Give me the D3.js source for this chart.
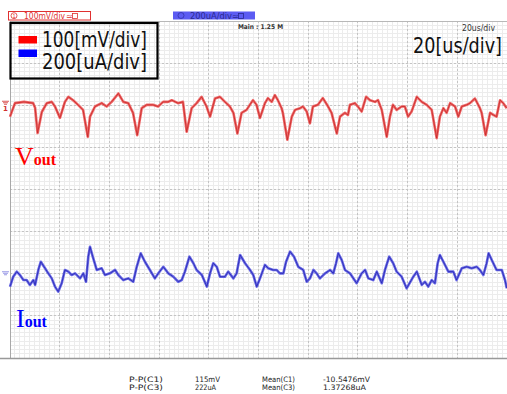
<!DOCTYPE html>
<html>
<head>
<meta charset="utf-8">
<script src="https://cdn.jsdelivr.net/npm/d3@7"></script>
<style>
  html, body { margin: 0; padding: 0; background: #fff; }
  svg { display: block; }
</style>
</head>
<body>
<svg id="scope" width="507" height="394"></svg>
<script>
// Time base: 10 divisions of 20 us
const timeDivs = 10;
const usPerDiv = 20;
const voltDivs = 8;

// Channel 1: output voltage ripple (mV), time in us
const vTime = [0, 2.0, 5.6, 9.3, 10.1, 11.1, 12.8, 14.8, 16.8, 18.1, 20.1, 22.1, 23.5, 25.4, 27.4, 29.4, 31.3, 32.2, 34.2, 36.9,
  38.9, 40.9, 43.6, 45.6, 47.6, 49.5, 51.2, 53.0, 55.0, 57.5, 59.6, 61.6, 63.6, 65.1, 67.6, 69.6, 71.1, 73.1, 75.1, 77.1,
  79.1, 80.5, 82.5, 84.5, 86.5, 88.5, 89.9, 91.5, 93.2, 95.2, 97.3, 97.8, 99.2, 100.6, 102.6, 103.8, 105.3, 106.6, 107.8, 109.3,
  109.8, 111.6, 113.4, 114.7, 116.7, 117.9, 119.4, 120.7, 121.9, 123.9, 125.9, 128.0, 129.4, 131.5, 132.8, 134.8, 136.0, 136.8, 138.8, 140.0,
  141.5, 143.3, 144.9, 146.9, 148.1, 149.6, 151.6, 152.9, 154.1, 155.6, 157.6, 158.9, 160.2, 161.6, 163.7, 165.7, 167.7, 169.7, 171.7, 173.0,
  174.4, 175.7, 177.1, 179.1, 180.4, 181.8, 183.8, 185.1, 187.1, 189.1, 189.8, 191.4, 193.2, 194.5, 195.8, 197.2, 198.5, 199.9];
const vOut = [-27, 5, 8, 5, -6, -66, -16, 5, 8, -3, -30, 8, 20, 12, 1, -11, -75, -27, -3, 5,
  -3, 8, 28, 8, 5, -18, -71, -7, 1, 1, -3, 8, 8, 12, 5, 8, -63, -7, 5, 20,
  -3, -27, 16, 20, 8, -3, -18, -67, -18, -11, 8, 12, 1, -30, 5, 17, 8, 24, 12, -7,
  -18, -82, -27, -11, -7, -3, -15, -43, -3, 1, 17, -3, -18, -67, -27, -18, -23, 1, 5, -3,
  -15, 20, 12, 8, 12, -11, -75, -27, 1, -11, -3, -3, -27, -15, 20, 8, 1, -11, -78, -27,
  -7, -18, 5, -3, -27, -3, 1, 5, 16, -7, -18, -71, -18, -23, -27, 12, 5, -7];

// Channel 3: output current (uA), time in us
const iTime = [0, 1.3, 2.7, 4.0, 5.4, 6.7, 8.0, 9.4, 10.1, 11.4, 12.4, 14.1, 15.4, 16.8, 18.1, 19.4, 20.8, 22.1, 23.5, 24.8,
  26.2, 28.2, 29.5, 30.6, 31.5, 32.2, 33.3, 34.9, 36.9, 38.2, 40.2, 42.3, 43.6, 45.6, 47.6, 49.6, 51.0, 52.6, 54.3, 56.3,
  58.3, 59.7, 61.7, 63.7, 65.7, 67.7, 69.1, 70.4, 72.2, 73.8, 75.1, 77.2, 79.2, 80.5, 81.8, 83.2, 84.5, 86.5, 87.8, 89.9,
  91.2, 92.6, 94.6, 96.6, 97.9, 99.3, 100.6, 102.6, 103.9, 105.9, 107.3, 108.6, 110.0, 111.1, 112.7, 114.3, 116.0, 118.0, 119.4, 120.7,
  122.1, 123.4, 124.7, 126.8, 128.8, 130.1, 131.2, 132.1, 133.5, 134.8, 136.8, 139.5, 141.5, 142.9, 144.2, 146.2, 147.6, 149.6, 150.9, 152.6,
  154.2, 155.6, 157.6, 159.6, 162.3, 163.7, 165.7, 167.0, 168.3, 169.7, 171.0, 172.1, 173.0, 174.4, 176.4, 178.4, 179.7, 181.8, 183.8, 185.8,
  187.8, 189.1, 190.5, 191.8, 192.6, 194.2, 195.8, 197.9, 199.2, 199.9];
const iOut = [-61, -14, 10, -6, -30, -30, -53, -30, -53, 18, 57, 26, 2, -22, -61, -85, -45, 18, 10, -6,
  2, -22, 2, -38, 81, 128, 81, 18, 26, -6, 2, 18, -6, -30, -22, -38, 33, 97, 57, 18,
  -22, 2, 33, 2, -14, -38, -30, 10, 81, 50, 18, -6, -61, 2, 50, 33, -14, -14, 10, -22,
  2, 89, 50, 18, -6, -61, -22, 42, 26, 18, 18, 2, 2, 57, 105, 81, 33, 18, -38, -22,
  18, 2, -22, 2, 18, 2, 50, 97, 65, 18, 2, -45, 2, 18, -22, -30, 10, -45, 18, 81,
  50, 10, -14, -69, -14, 10, -53, -38, -61, -30, -45, 50, 89, 57, 10, 10, -30, 26, 33, 26,
  33, 18, -6, 50, 97, 57, 18, 18, -30, -69];

// Text content
const legendLabels = ["100[mV/div]", "200[uA/div]"];
const timeLabel = "20[us/div]";
const timeSmall = "20us/div";
const mainLabel = "Main : 1.25 M";
const measNames = ["P-P(C1)", "P-P(C3)"];
const measValues = ["115mV", "222uA"];
const meanNames = ["Mean(C1)", "Mean(C3)"];
const meanValues = ["-10.5476mV", "1.37268uA"];

const svg = d3.select("#scope");
const plotL = 10, plotR = 507, plotT = 21, plotB = 358;

const x = d3.scaleLinear().domain([0, timeDivs * usPerDiv]).range([plotL, plotR]);
const yDiv = d3.scaleLinear().domain([0, voltDivs]).range([plotT, plotB]);
// CH1 at 100 mV/div, ground two divisions from the top
const yV = d3.scaleLinear().domain([200, -600]).range([plotT, plotB]);
// CH3 at 200 uA/div, ground six divisions from the top
const yI = d3.scaleLinear().domain([1200, -400]).range([plotT, plotB]);

// ---- grid ----
const grid = svg.append("g");
const minorX = d3.range(0, timeDivs * usPerDiv + 0.01, usPerDiv / 10);
const minorY = d3.range(0, voltDivs + 0.001, 0.1);
grid.selectAll("line.mx").data(minorX).join("line")
  .attr("x1", d => x(d)).attr("x2", d => x(d))
  .attr("y1", plotT).attr("y2", plotB)
  .attr("stroke", "#ececec").attr("stroke-width", 1).attr("shape-rendering", "crispEdges");
grid.selectAll("line.my").data(minorY).join("line")
  .attr("x1", plotL).attr("x2", plotR)
  .attr("y1", d => yDiv(d)).attr("y2", d => yDiv(d))
  .attr("stroke", "#ececec").attr("stroke-width", 1).attr("shape-rendering", "crispEdges");
grid.selectAll("line.Mx").data(d3.range(1, timeDivs)).join("line")
  .attr("x1", d => x(d * usPerDiv)).attr("x2", d => x(d * usPerDiv))
  .attr("y1", plotT).attr("y2", plotB)
  .attr("stroke", "#c4c4c4").attr("stroke-dasharray", "2,2").attr("shape-rendering", "crispEdges");
grid.selectAll("line.My").data(d3.range(1, voltDivs)).join("line")
  .attr("x1", plotL).attr("x2", plotR)
  .attr("y1", d => yDiv(d)).attr("y2", d => yDiv(d))
  .attr("stroke", "#c4c4c4").attr("stroke-dasharray", "2,2").attr("shape-rendering", "crispEdges");

// frame
svg.append("line").attr("x1", plotL).attr("x2", plotR).attr("y1", plotT).attr("y2", plotT)
  .attr("stroke", "#b8b8b8").attr("shape-rendering", "crispEdges");
svg.append("line").attr("x1", plotL).attr("x2", plotL).attr("y1", plotT).attr("y2", plotB)
  .attr("stroke", "#a8a8a8").attr("shape-rendering", "crispEdges");
svg.append("line").attr("x1", 0).attr("x2", plotR).attr("y1", plotB + 0.5).attr("y2", plotB + 0.5)
  .attr("stroke", "#999").attr("stroke-width", 1.5);

// ---- traces ----
const vLine = d3.line().x((d, i) => x(vTime[i])).y(d => yV(d));
const iLine = d3.line().x((d, i) => x(iTime[i])).y(d => yI(d));

svg.append("path").datum(vOut).attr("d", vLine)
  .attr("fill", "none").attr("stroke", "#f06868").attr("stroke-width", 2.6).attr("stroke-linejoin", "round");
svg.append("path").datum(vOut).attr("d", vLine)
  .attr("fill", "none").attr("stroke", "#c42828").attr("stroke-width", 0.8).attr("stroke-linejoin", "round");

svg.append("path").datum(iOut).attr("d", iLine)
  .attr("fill", "none").attr("stroke", "#6a6ae6").attr("stroke-width", 2.6).attr("stroke-linejoin", "round");
svg.append("path").datum(iOut).attr("d", iLine)
  .attr("fill", "none").attr("stroke", "#2424b0").attr("stroke-width", 0.8).attr("stroke-linejoin", "round");

// ---- channel ground markers ----
function groundMark(yPos, color, label) {
  const g = svg.append("g").attr("transform", `translate(2,${yPos})`);
  g.append("line").attr("x1", 0).attr("x2", 7).attr("y1", -3).attr("y2", -3).attr("stroke", color).attr("stroke-width", 0.8);
  g.append("line").attr("x1", 1).attr("x2", 6).attr("y1", -1.5).attr("y2", -1.5).attr("stroke", color).attr("stroke-width", 0.8);
  g.append("line").attr("x1", 2).attr("x2", 5).attr("y1", 0).attr("y2", 0).attr("stroke", color).attr("stroke-width", 0.8);
  if (label) {
    g.append("text").attr("x", 3.5).attr("y", 7).attr("text-anchor", "middle")
      .attr("font-family", "DejaVu Sans").attr("font-size", 7).attr("font-weight", "bold")
      .attr("fill", color).text(label);
  }
}
groundMark(yV(0) - 1, "#d03030", "1");
groundMark(yI(0) + 1, "#8080e0", null);

// ---- channel tags at the top ----
const tag1 = svg.append("g");
tag1.append("rect").attr("x", 8.5).attr("y", 11.5).attr("width", 82).attr("height", 8.5)
  .attr("fill", "#fff").attr("stroke", "#e03030");
tag1.append("circle").attr("cx", 14).attr("cy", 15.7).attr("r", 3).attr("fill", "none").attr("stroke", "#e03030").attr("stroke-width", 0.8);
tag1.append("text").attr("x", 14).attr("y", 18).attr("text-anchor", "middle").attr("font-family", "DejaVu Sans Condensed")
  .attr("font-size", 5.5).attr("fill", "#e03030").text("1");
tag1.append("text").attr("x", 24).attr("y", 19).attr("font-family", "DejaVu Sans Condensed")
  .attr("font-size", 8.5).attr("fill", "#e03030").attr("textLength", 41).attr("lengthAdjust", "spacingAndGlyphs")
  .text("100mV/div");
tag1.append("text").attr("x", 66).attr("y", 18.5).attr("font-family", "DejaVu Sans")
  .attr("font-size", 8).attr("fill", "#e03030").text("≃");
tag1.append("rect").attr("x", 72.5).attr("y", 13.5).attr("width", 5).attr("height", 5)
  .attr("fill", "none").attr("stroke", "#e03030").attr("stroke-width", 0.8);

const tag3 = svg.append("g");
tag3.append("rect").attr("x", 173).attr("y", 11.5).attr("width", 82).attr("height", 8)
  .attr("fill", "#5c5cf2");
tag3.append("circle").attr("cx", 181).attr("cy", 15.5).attr("r", 3).attr("fill", "none").attr("stroke", "#3434a8").attr("stroke-width", 0.8);
tag3.append("text").attr("x", 190).attr("y", 19).attr("font-family", "DejaVu Sans Condensed")
  .attr("font-size", 8.5).attr("fill", "#2a2a90").attr("textLength", 42).attr("lengthAdjust", "spacingAndGlyphs")
  .text("200uA/div");
tag3.append("text").attr("x", 232).attr("y", 18.5).attr("font-family", "DejaVu Sans")
  .attr("font-size", 8).attr("fill", "#2a2a90").text("≃");
tag3.append("rect").attr("x", 238.5).attr("y", 13.5).attr("width", 5).attr("height", 5)
  .attr("fill", "none").attr("stroke", "#2a2a90").attr("stroke-width", 0.8);

// ---- header texts inside the screen ----
svg.append("text").attr("x", 238).attr("y", 28.5).attr("font-family", "DejaVu Sans Condensed")
  .attr("font-size", 6.5).attr("font-weight", "bold").attr("fill", "#333")
  .attr("textLength", 45).attr("lengthAdjust", "spacingAndGlyphs").text(mainLabel);
svg.append("text").attr("x", 462).attr("y", 31).attr("font-family", "DejaVu Sans Condensed")
  .attr("font-size", 8).attr("fill", "#333")
  .attr("textLength", 33).attr("lengthAdjust", "spacingAndGlyphs").text(timeSmall);

// large time-base label, narrowed horizontally to a fixed width
const tb = svg.append("text").attr("x", 0).attr("y", 0).attr("font-family", "DejaVu Sans")
  .attr("font-size", 21).attr("fill", "#111").text(timeLabel);
const tbNatural = tb.node().getComputedTextLength();
tb.attr("transform", `translate(413,53) scale(${89 / tbNatural},1)`);

// ---- legend ----
const legend = svg.append("g");
legend.append("rect").attr("x", 10.5).attr("y", 23).attr("width", 147).attr("height", 55.5)
  .attr("fill", "none").attr("stroke", "#000").attr("stroke-width", 2.2);
const legendColors = ["#ff0000", "#0000ff"];
legend.selectAll("rect.sw").data(legendLabels).join("rect")
  .attr("x", 18.5).attr("y", (d, i) => 36 + i * 13.5).attr("width", 18.5).attr("height", 7.5)
  .attr("fill", (d, i) => legendColors[i]);
legend.selectAll("text.lb").data(legendLabels).join("text")
  .attr("x", 42).attr("y", (d, i) => 47 + i * 22)
  .attr("font-family", "DejaVu Sans").attr("font-size", 21).attr("fill", "#111")
  .attr("textLength", 105).attr("lengthAdjust", "spacingAndGlyphs")
  .text(d => d);

// ---- signal names ----
const vLab = svg.append("text").attr("x", 15).attr("y", 164.5)
  .attr("font-family", "Liberation Serif").attr("fill", "#ff0000");
vLab.append("tspan").attr("font-size", 26).text("V");
vLab.append("tspan").attr("font-size", 16).attr("font-weight", "bold").text("out");

const iLab = svg.append("text").attr("x", 16).attr("y", 326.5)
  .attr("font-family", "Liberation Serif").attr("fill", "#0000ff");
iLab.append("tspan").attr("font-size", 26).text("I");
iLab.append("tspan").attr("font-size", 16).attr("font-weight", "bold").text("out");

// ---- measurement readout ----
const meas = svg.append("g").attr("font-family", "DejaVu Sans Condensed").attr("font-size", 7.5).attr("fill", "#222");
const rowY = [382, 390];
function column(list, xPos, widths) {
  meas.selectAll(null).data(list).join("text")
    .attr("x", xPos).attr("y", (d, i) => rowY[i])
    .attr("textLength", (d, i) => widths[i]).attr("lengthAdjust", "spacingAndGlyphs")
    .text(d => d);
}
column(measNames, 129, [34, 34]);
column(measValues, 195, [25, 21]);
column(meanNames, 262, [33, 33]);
column(meanValues, 323, [47, 43]);
</script>
</body>
</html>
